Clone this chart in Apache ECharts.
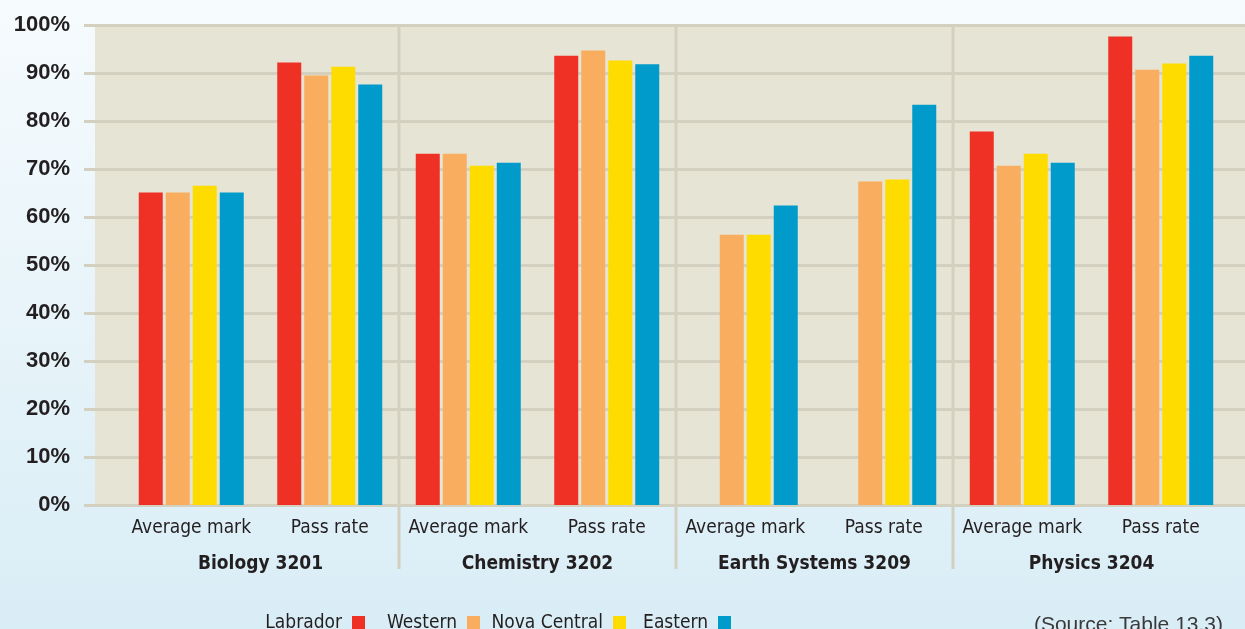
<!DOCTYPE html>
<html>
<head>
<meta charset="utf-8">
<script src="https://cdn.jsdelivr.net/npm/echarts@6/dist/echarts.min.js"></script>
<style>
html,body{margin:0;padding:0;}
body{width:1245px;height:629px;background:linear-gradient(to bottom,#f6fbfd 0%,#e6f3f9 55%,#d9edf6 100%);}
#c{width:1245px;height:629px;}
</style>
</head>
<body>
<div id="c"></div>
<script>
const subjects = ['Biology 3201', 'Chemistry 3202', 'Earth Systems 3209', 'Physics 3204'];
const measures = ['Average mark', 'Pass rate'];
const regions = ['Labrador', 'Western', 'Nova Central', 'Eastern'];
const colors = ['#ee3124', '#f9ad5e', '#ffdc00', '#009bca'];
const yTicks = [0, 10, 20, 30, 40, 50, 60, 70, 80, 90, 100];
// values per region, order: Bio avg, Bio pass, Chem avg, Chem pass, Earth avg, Earth pass, Phys avg, Phys pass
const labrador    = [65.1, 92.2, 73.2, 93.6, null, null, 77.8, 97.6];
const western     = [65.1, 89.5, 73.2, 94.7, 56.3, 67.4, 70.7, 90.7];
const novaCentral = [66.5, 91.3, 70.7, 92.6, 56.3, 67.8, 73.2, 92.0];
const eastern     = [65.1, 87.6, 71.3, 91.8, 62.4, 83.4, 71.3, 93.6];
const sourceNote = '(Source: Table 13.3)';

const seriesValues = [labrador, western, novaCentral, eastern];
const categories = [];
subjects.forEach(() => measures.forEach(m => categories.push(m)));

const narrow = "'DejaVu Sans Condensed', 'Liberation Sans Narrow', 'Liberation Sans', sans-serif";
const textColor = '#231f20';
const gridColor = '#d3d0c0';
// right offsets of legend icons (layout only)
const legendRight = [880, 765, 619, 514];

const chart = echarts.init(document.getElementById('c'), null, {renderer: 'canvas'});

const series = regions.map((name, i) => ({
  name: name,
  type: 'bar',
  xAxisIndex: 2,
  yAxisIndex: 1,
  data: seriesValues[i],
  barWidth: 24,
  barGap: '12.5%',
  itemStyle: {color: colors[i]},
  emphasis: {disabled: true},
  z: 3
}));

series.push({
  type: 'custom',
  xAxisIndex: 3,
  yAxisIndex: 1,
  clip: false,
  silent: true,
  z: 1,
  data: subjects.slice(1).map((s, i) => [i + 1, 0]),
  renderItem: function (params, api) {
    const idx = api.value(0);
    const half = api.size([1, 0])[0] / 2;
    const x = Math.round(api.coord([idx, 0])[0] - half);
    const yTop = api.coord([idx, yTicks[yTicks.length - 1]])[1];
    const yBot = api.coord([idx, 0])[1] + 64;
    return {
      type: 'line',
      shape: {x1: x, y1: yTop, x2: x, y2: yBot},
      style: {stroke: gridColor, lineWidth: 3}
    };
  }
});

const legends = regions.map((name, i) => ({
  data: [name],
  right: legendRight[i],
  top: 614,
  align: 'right',
  orient: 'horizontal',
  itemWidth: 13,
  itemHeight: 15,
  icon: 'rect',
  selectedMode: false,
  padding: 0,
  textStyle: {color: textColor, fontFamily: narrow, fontSize: 19, padding: [0, 5, 0, 0]}
}));

chart.setOption({
  animation: false,
  backgroundColor: 'transparent',
  grid: [
    {left: 95, right: 0, top: 25, height: 480, show: true, backgroundColor: '#e6e4d4', borderWidth: 0},
    {left: 122, right: 15, top: 25, height: 480}
  ],
  xAxis: [
    {gridIndex: 0, type: 'value', show: false, min: 0, max: 1},
    {gridIndex: 1, type: 'category', show: false, data: categories},
    {
      gridIndex: 1, type: 'category', data: categories, position: 'bottom',
      axisLine: {show: false}, axisTick: {show: false}, splitLine: {show: false},
      axisLabel: {interval: 0, margin: 14, color: textColor, fontFamily: narrow, fontSize: 19}
    },
    {
      gridIndex: 1, type: 'category', data: subjects, position: 'bottom',
      axisLine: {show: false}, axisTick: {show: false}, splitLine: {show: false},
      axisLabel: {interval: 0, margin: 50, color: textColor, fontFamily: narrow, fontSize: 19, fontWeight: 'bold'}
    }
  ],
  yAxis: [
    {
      gridIndex: 0, type: 'value', min: 0, max: 100, interval: 10,
      axisLine: {show: false},
      axisTick: {show: true, length: 11, lineStyle: {color: gridColor, width: 3}},
      splitLine: {show: true, lineStyle: {color: gridColor, width: 3}},
      axisLabel: {margin: 25, padding: [4, 0, 0, 0], color: textColor, fontFamily: "'Liberation Sans', Arial, sans-serif", fontSize: 22, fontWeight: 'bold', formatter: v => v + '%'}
    },
    {gridIndex: 1, type: 'value', min: 0, max: 100, interval: 10, show: false}
  ],
  legend: legends,
  graphic: [{
    type: 'text',
    right: 22,
    top: 615,
    style: {text: sourceNote, fill: '#3a3a3a', font: "21px 'Liberation Sans', Arial, sans-serif"}
  }],
  series: series
});
</script>
</body>
</html>
